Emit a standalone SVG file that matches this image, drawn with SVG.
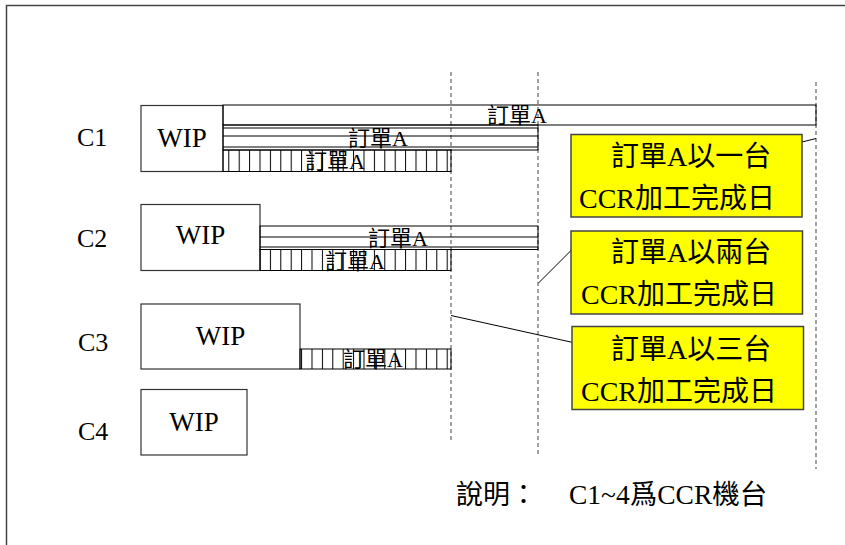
<svg xmlns="http://www.w3.org/2000/svg" width="845" height="545" viewBox="0 0 845 545">
<style>
.t{font-family:"Liberation Serif","Noto Sans CJK TC",serif;fill:#000}
.lbl{font-size:26px}
.wip{font-size:27px}
.bar{font-size:22px}
.note{font-size:28px}
.box{fill:#fff;stroke:#333;stroke-width:1.2}
.bl{fill:none;stroke:#000;stroke-width:1}
.yel{fill:#ffff00;stroke:#444;stroke-width:1.5}
.dash{fill:none;stroke:#444;stroke-width:1;stroke-dasharray:4 3}
.lead{fill:none;stroke:#000;stroke-width:1}
</style>
<defs>
<pattern id="vh" patternUnits="userSpaceOnUse" x="228.3" y="0" width="10.4" height="40">
<line x1="0.5" y1="0" x2="0.5" y2="40" stroke="#000" stroke-width="1"/>
</pattern>
</defs>
<rect width="845" height="545" fill="#fff"/>
<path d="M6.5,545 V5.5 H845" fill="none" stroke="#444" stroke-width="1.5"/>

<g id="guides">
<line class="dash" x1="451" y1="72" x2="451" y2="443"/>
<line class="dash" x1="538" y1="72" x2="538" y2="456"/>
<line class="dash" x1="816" y1="82" x2="816" y2="469"/>
</g>

<g id="C1">
<text class="t lbl" x="77" y="146">C1</text>
<rect class="box" x="141" y="105.5" width="82" height="66"/>
<text class="t wip" x="182" y="146.5" text-anchor="middle">WIP</text>
<rect class="bl" x="223" y="105" width="593" height="20"/>
<text class="t bar" x="487" y="123">訂單A</text>
<rect class="bl" x="223" y="125" width="315" height="25"/>
<path class="bl" d="M223,128 H538 M223,136 H538 M223,147 H538"/>
<text class="t bar" x="348" y="146">訂單A</text>
<rect x="223" y="150" width="228" height="21.5" fill="url(#vh)" stroke="#000"/>
<text class="t bar" x="305" y="169">訂單A</text>
</g>

<g id="C2">
<text class="t lbl" x="77" y="247">C2</text>
<rect class="box" x="141" y="204.5" width="119" height="66"/>
<text class="t wip" x="200.5" y="243.5" text-anchor="middle">WIP</text>
<rect class="bl" x="260" y="226" width="278" height="23.5" stroke-width="1.5"/>
<path class="bl" d="M260,237 H538 M260,247 H538"/>
<text class="t bar" x="368" y="245.5">訂單A</text>
<rect x="260" y="249.5" width="191" height="21" fill="url(#vh)" stroke="#000"/>
<text class="t bar" x="325" y="268.5">訂單A</text>
</g>

<g id="C3">
<text class="t lbl" x="78" y="351">C3</text>
<rect class="box" x="141" y="304" width="159" height="65"/>
<text class="t wip" x="220.5" y="345" text-anchor="middle">WIP</text>
<rect x="300" y="349" width="151" height="20" fill="url(#vh)" stroke="#000"/>
<text class="t bar" x="343" y="367">訂單A</text>
</g>

<g id="C4">
<text class="t lbl" x="78" y="440">C4</text>
<rect class="box" x="141" y="389.5" width="106" height="65.5"/>
<text class="t wip" x="194" y="430.5" text-anchor="middle">WIP</text>
</g>

<g id="connectors">
<line class="lead" x1="776" y1="148.5" x2="816" y2="138.5"/>
<line class="lead" x1="578" y1="243.5" x2="538.5" y2="283"/>
<line class="lead" x1="577.5" y1="343.5" x2="451" y2="315.5"/>
</g>

<g id="note1">
<rect class="yel" x="571" y="134.5" width="231" height="82.5"/>
<text class="t note" x="611" y="166">訂單A以一台</text>
<text class="t note" x="579" y="208">CCR加工完成日</text>
</g>
<g id="note2">
<rect class="yel" x="571" y="231" width="231.5" height="83"/>
<text class="t note" x="611" y="262">訂單A以兩台</text>
<text class="t note" x="581" y="304">CCR加工完成日</text>
</g>
<g id="note3">
<rect class="yel" x="572" y="326.5" width="231.5" height="83"/>
<text class="t note" x="611" y="359">訂單A以三台</text>
<text class="t note" x="581" y="401">CCR加工完成日</text>
</g>

<g id="legend">
<text class="t" font-size="27" x="456" y="504">說明：</text>
<text class="t" font-size="27.5" x="569" y="504">C1~4爲CCR機台</text>
</g>
</svg>
